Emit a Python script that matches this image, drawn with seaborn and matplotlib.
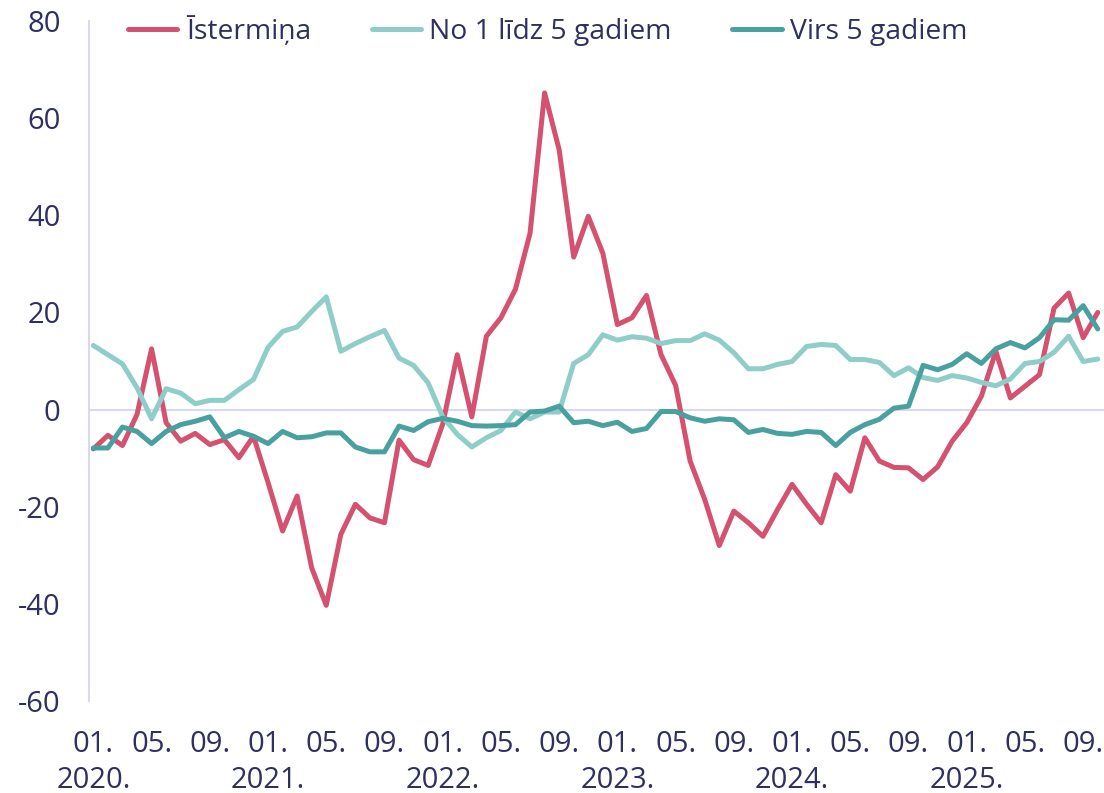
import pandas as pd
import matplotlib.pyplot as plt
import seaborn as sns

# monthly data, 2020-01 .. 2025-10
months = pd.period_range('2020-01', '2025-10', freq='M')

istermina = [-8.1, -5.3, -7.4, -1.0, 12.5, -2.7, -6.5, -4.9, -7.2, -6.2,
             -9.9, -5.5, -15.0, -25.0, -17.8, -32.6, -40.3, -25.7, -19.5, -22.3,
             -23.3, -6.3, -10.3, -11.5, -3.0, 11.3, -1.5, 15.1, 18.9, 24.8,
             36.3, 65.2, 53.5, 31.4, 39.8, 32.2, 17.5, 18.9, 23.5, 11.3,
             5.0, -10.6, -18.5, -28.0, -20.9, -23.3, -26.1, -20.6, -15.4, -19.5,
             -23.3, -13.4, -16.8, -5.8, -10.6, -11.9, -12.0, -14.4, -11.8, -6.5,
             -2.7, 2.7, 12.0, 2.4, 4.8, 7.2, 20.9, 24.0, 14.8, 20.0]

no1_lidz5 = [13.2, 11.3, 9.4, 4.5, -1.9, 4.3, 3.4, 1.2, 1.9, 1.9,
             4.1, 6.2, 12.8, 16.1, 17.0, 20.2, 23.2, 12.0, 13.6, 15.0,
             16.3, 10.6, 9.1, 5.5, -1.5, -5.1, -7.7, -5.8, -4.3, -0.5,
             -1.9, -0.5, -0.5, 9.5, 11.3, 15.4, 14.3, 15.0, 14.7, 13.6,
             14.2, 14.2, 15.6, 14.3, 11.7, 8.4, 8.4, 9.3, 9.9, 13.0,
             13.4, 13.2, 10.3, 10.3, 9.7, 7.0, 8.6, 6.6, 6.0, 7.0,
             6.5, 5.6, 4.9, 6.3, 9.5, 9.9, 11.8, 15.1, 9.9, 10.4]

virs5 = [-7.9, -7.9, -3.6, -4.5, -7.0, -4.5, -3.1, -2.4, -1.5, -5.8,
         -4.5, -5.5, -7.0, -4.5, -5.8, -5.6, -4.8, -4.8, -7.7, -8.7,
         -8.7, -3.4, -4.3, -2.5, -1.8, -2.4, -3.3, -3.4, -3.3, -3.1,
         -0.5, -0.3, 0.7, -2.7, -2.4, -3.3, -2.6, -4.5, -3.9, -0.4,
         -0.4, -1.7, -2.4, -1.9, -2.1, -4.7, -4.1, -4.9, -5.1, -4.5,
         -4.7, -7.4, -4.7, -3.1, -2.0, 0.3, 0.7, 9.1, 8.2, 9.3,
         11.5, 9.5, 12.5, 13.8, 12.7, 14.8, 18.5, 18.4, 21.4, 16.6]

series_names = ['Īstermiņa', 'No 1 līdz 5 gadiem', 'Virs 5 gadiem']
colors = ['#d4516f', '#8fcdc9', '#48a19f']

TEXT = '#2e3060'
GRID = '#d9d9ee'
FS = 21

df = pd.DataFrame({
    'idx': list(range(len(months))) * 3,
    'value': istermina + no1_lidz5 + virs5,
    'series': [s for s in series_names for _ in months],
})

sns.set_theme(style='white')
plt.rcParams['font.family'] = ['Open Sans', 'DejaVu Sans']
plt.rcParams['axes.unicode_minus'] = False

fig = plt.figure(figsize=(11.04, 7.93), dpi=100)
ax = fig.add_axes([0.0806, 0.116, 0.919, 0.8575])

ax.axhline(0, color=GRID, lw=1.5, zorder=1)
sns.lineplot(data=df, x='idx', y='value', hue='series', hue_order=series_names,
             palette=colors, linewidth=3.6, ax=ax, zorder=3,
             solid_capstyle='round', solid_joinstyle='round')

# x ticks every 4 months, year under January
tick_pos = list(range(0, len(months), 4))
tick_labels = []
for p in tick_pos:
    m = months[p]
    lab = f'{m.month:02d}.'
    if m.month == 1:
        lab += f'\n{m.year}.'
    tick_labels.append(lab)
ax.set_xticks(tick_pos)
ax.set_xticklabels(tick_labels, va='top', linespacing=1.3)
ax.set_xlim(-0.3, 69.4)
ax.set_ylim(-60, 80)
ax.set_yticks(range(-60, 81, 20))
ax.tick_params(axis='both', length=0, labelsize=FS, labelcolor=TEXT)
ax.tick_params(axis='x', pad=21)
ax.tick_params(axis='y', pad=20.5)
ax.set_xlabel('')
ax.set_ylabel('')

for side in ['top', 'right', 'bottom']:
    ax.spines[side].set_visible(False)
ax.spines['left'].set_color(GRID)
ax.spines['left'].set_linewidth(1.5)

handles, labels = ax.get_legend_handles_labels()
ax.legend(handles, labels, loc='center left', bbox_to_anchor=(0.116, 0.961),
          bbox_transform=fig.transFigure, ncol=3, frameon=False,
          fontsize=20.3, labelcolor=TEXT, handlelength=1.75, handletextpad=0.3,
          columnspacing=2.15, borderpad=0, borderaxespad=0)

fig.savefig('out.png', dpi=100)
